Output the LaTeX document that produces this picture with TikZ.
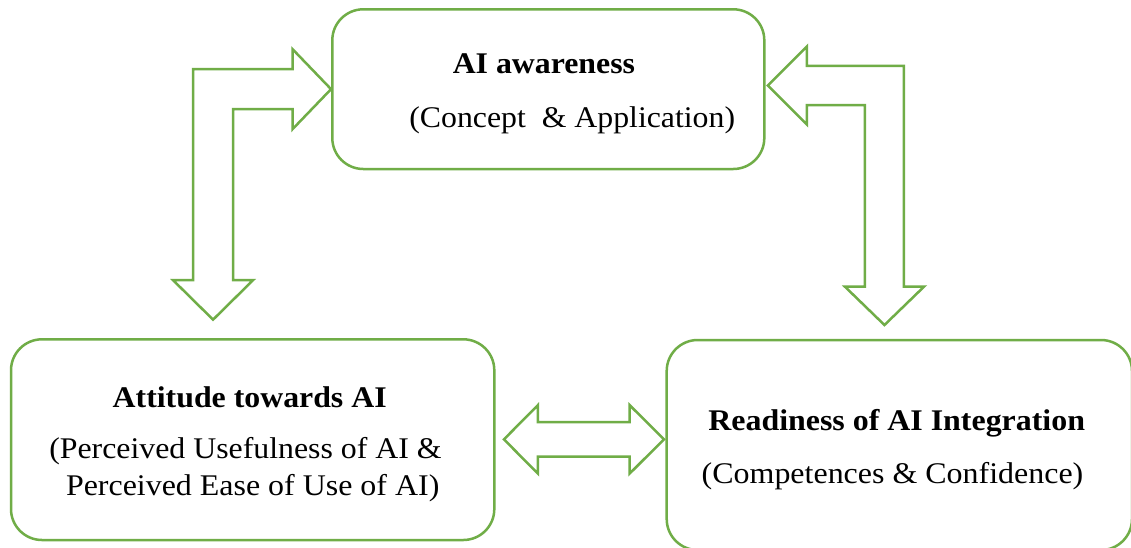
\documentclass[tikz,border=0pt]{standalone}
\usepackage{fontspec}
\setmainfont{Liberation Serif}
\usepackage{graphicx}
\usetikzlibrary{calc}
\definecolor{boxgreen}{RGB}{112,173,71}
\newcommand{\fitw}[2]{\resizebox{#1}{\height}{#2}}
\tikzset{
  rbox/.style={draw=boxgreen, line width=2.5pt, rectangle, rounded corners=31pt, inner sep=0pt},
  blockarrow/.style={draw=boxgreen, line width=2.5pt, line join=miter, fill=white},
  lbl/.style={anchor=base, inner sep=0pt, font=\fontsize{30}{36}\selectfont},
  blbl/.style={lbl, font=\fontsize{30}{36}\selectfont\bfseries}
}
\begin{document}
\begin{tikzpicture}[x=1pt, y=-1pt]
\useasboundingbox (0,0) rectangle (1131,547);
\fill[white] (0,0) rectangle (1131,547);
% boxes
\node[rbox, minimum width=432pt, minimum height=159.7pt] (aw) at (548.3,89.15) {};
\node[rbox, minimum width=483.3pt, minimum height=200.7pt] (att) at (252.65,439.65) {};
\node[rbox, minimum width=465.3pt, minimum height=210pt] (rd) at (899.35,445) {};
% texts
\node[blbl] (aw1) at (543.9,73) {\fitw{182.3pt}{AI awareness}};
\node[lbl] (aw2) at (572.2,127) {\fitw{325.7pt}{(Concept\ \ \& Application)}};
\node[blbl] (at1) at (249.7,407.3) {\fitw{274pt}{Attitude towards AI}};
\node[lbl] (at2) at (245.5,458.3) {\fitw{392.4pt}{(Perceived Usefulness of AI \&}};
\node[lbl] (at3) at (252.7,495.7) {\fitw{373.3pt}{Perceived Ease of Use of AI)}};
\node[blbl] (rd1) at (896.7,430.5) {\fitw{376.7pt}{Readiness of AI Integration}};
\node[lbl] (rd2) at (892.5,483.3) {\fitw{381.6pt}{(Competences \& Confidence)}};
% left bent block arrow: awareness <-> attitude
\begin{scope}[shift={(aw.west)}]
\draw[blockarrow] (0,0) -- (-38.5,-40) -- (-38.5,-20) -- (-138,-20) -- (-138,191)
  -- (-158,191) -- (-118,230.5) -- (-78,191) -- (-98,191) -- (-98,20)
  -- (-38.5,20) -- (-38.5,40) -- cycle;
\end{scope}
% right bent block arrow: awareness <-> readiness
\begin{scope}[shift={($(aw.east)+(2.4,-3.65)$)}]
\draw[blockarrow] (0,0) -- (39,-39) -- (39,-19.6) -- (136,-19.6) -- (136,201.2)
  -- (156,201.2) -- (116.5,239.5) -- (77,201.2) -- (97,201.2) -- (97,19.6)
  -- (39,19.6) -- (39,39) -- cycle;
\end{scope}
% middle double block arrow: attitude <-> readiness
\begin{scope}[shift={($(att.east)+(8.4,-0.3)$)}]
\draw[blockarrow] (0,0) -- (34,-34.3) -- (34,-17.2) -- (125.6,-17.2) -- (125.6,-34.3)
  -- (160,0) -- (125.6,34.3) -- (125.6,17.2) -- (34,17.2) -- (34,34.3) -- cycle;
\end{scope}
\end{tikzpicture}
\end{document}
